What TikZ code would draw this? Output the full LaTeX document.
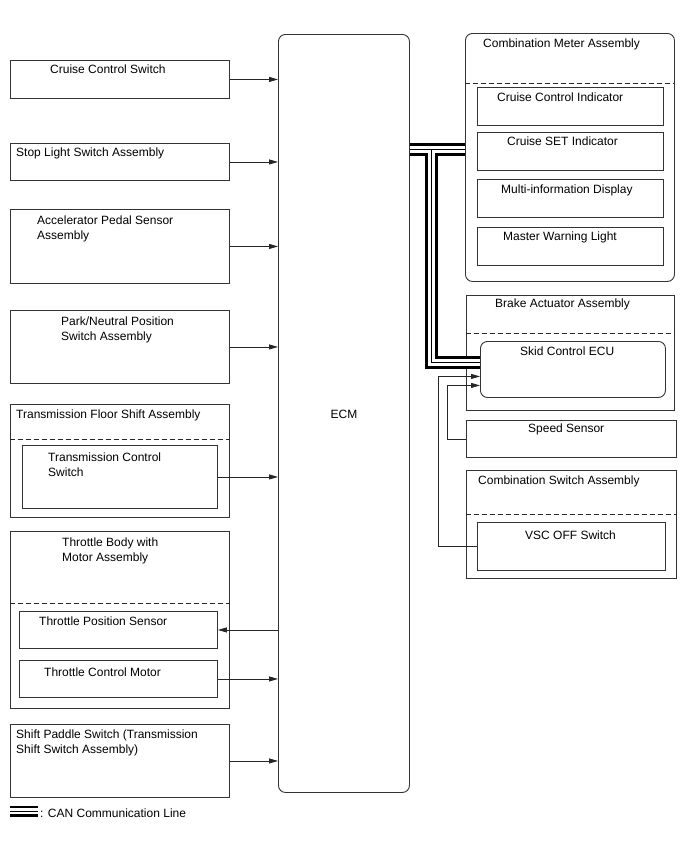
\documentclass[tikz,border=0pt]{standalone}
\usepackage{fontspec}
\setmainfont{Liberation Sans}
\usetikzlibrary{positioning,arrows.meta,calc}

\begin{document}
\begin{tikzpicture}[x=1pt,y=-1pt,
    compbox/.style={draw=black!80,line width=0.9pt,anchor=north west,inner sep=0pt},
    ecubox/.style={compbox,rounded corners=7pt},
    lbl/.style={anchor=north west,inner sep=0pt,yshift=-1pt,align=left,font=\fontsize{12}{14.5}\selectfont},
    arrow/.style={-{Triangle[length=9pt,width=5pt]},line width=0.8pt,black!85},
    divider/.style={draw=black!85,line width=0.8pt,dash pattern=on 5pt off 3pt},
]
\fill[white] (0,0) rectangle (688,852);
\useasboundingbox (0,0) rectangle (688,852);

% left column: inputs / outputs of the ECM
\node[compbox,minimum width=219pt,minimum height=38pt]  (ccsw)   at (10,60)  {};
\node[compbox,minimum width=219pt,minimum height=37pt]  (stop)   at (10,143) {};
\node[compbox,minimum width=219pt,minimum height=74pt]  (accel)  at (10,209) {};
\node[compbox,minimum width=219pt,minimum height=73pt]  (pnp)    at (10,310) {};
\node[compbox,minimum width=219pt,minimum height=113pt] (tfs)    at (10,404) {};
\node[compbox,minimum width=195pt,minimum height=63pt]  (tcsw)   at (22,445) {};
\node[compbox,minimum width=219pt,minimum height=177pt] (tbody)  at (10,531) {};
\node[compbox,minimum width=198pt,minimum height=37pt]  (tps)    at (19,611) {};
\node[compbox,minimum width=198pt,minimum height=37pt]  (tcm)    at (19,660) {};
\node[compbox,minimum width=219pt,minimum height=73pt]  (paddle) at (10,724) {};
\draw[divider] (tfs.west |- 0,439) -- (tfs.east |- 0,439);
\draw[divider] (tbody.west |- 0,603) -- (tbody.east |- 0,603);

\node[lbl] (ccswT)   at (50,64)  {Cruise Control Switch};
\node[lbl] (stopT)   at (16,147) {Stop Light Switch Assembly};
\node[lbl] (accelT)  at (37,215) {Accelerator Pedal Sensor\\Assembly};
\node[lbl] (pnpT)    at (61,316) {Park/Neutral Position\\Switch Assembly};
\node[lbl] (tfsT)    at (16,409) {Transmission Floor Shift Assembly};
\node[lbl] (tcswT)   at (48,452) {Transmission Control\\Switch};
\node[lbl] (tbodyT)  at (62,537) {Throttle Body with\\Motor Assembly};
\node[lbl] (tpsT)    at (39,616) {Throttle Position Sensor};
\node[lbl] (tcmT)    at (44,667) {Throttle Control Motor};
\node[lbl] (paddleT) at (16,729) {Shift Paddle Switch (Transmission\\Shift Switch Assembly)};

% ECM
\node[ecubox,minimum width=131pt,minimum height=758pt] (ecm) at (278,34) {};
\node[lbl,anchor=center] (ecmT) at (ecm.center) {ECM};

% right column
\node[ecubox,minimum width=209pt,minimum height=248pt] (meter) at (465,33) {};
\draw[divider] (meter.west |- 0,83) -- (meter.east |- 0,83);
\node[compbox,minimum width=186pt,minimum height=38pt] (cci)  at (477,87)  {};
\node[compbox,minimum width=186pt,minimum height=38pt] (cset) at (477,132) {};
\node[compbox,minimum width=186pt,minimum height=38pt] (mid)  at (477,179) {};
\node[compbox,minimum width=186pt,minimum height=38pt] (mwl)  at (477,227) {};
\node[compbox,minimum width=208pt,minimum height=115pt] (brake) at (466,295) {};
\draw[divider] (brake.west |- 0,333) -- (brake.east |- 0,333);
\node[ecubox,minimum width=185pt,minimum height=56pt] (skid) at (480,341) {};
\node[compbox,minimum width=210pt,minimum height=37pt] (speed) at (466,420) {};
\node[compbox,minimum width=210pt,minimum height=108pt] (cswa) at (466,470) {};
\draw[divider] (cswa.west |- 0,514) -- (cswa.east |- 0,514);
\node[compbox,minimum width=188pt,minimum height=48pt] (vsc) at (477,522) {};

\node[lbl] (meterT) at (483,38)  {Combination Meter Assembly};
\node[lbl] (cciT)   at (497,92)  {Cruise Control Indicator};
\node[lbl] (csetT)  at (507,136) {Cruise SET Indicator};
\node[lbl] (midT)   at (501,184) {Multi-information Display};
\node[lbl] (mwlT)   at (503,231) {Master Warning Light};
\node[lbl] (brakeT) at (495,298) {Brake Actuator Assembly};
\node[lbl] (skidT)  at (520,346) {Skid Control ECU};
\node[lbl] (speedT) at (528,423) {Speed Sensor};
\node[lbl] (cswaT)  at (478,475) {Combination Switch Assembly};
\node[lbl] (vscT)   at (525,530) {VSC OFF Switch};

% signal lines
\foreach \src in {ccsw,stop,accel,pnp,tcsw,tcm,paddle}
  \draw[arrow] (\src.east) -- (\src.east -| ecm.west);
\draw[arrow] (tps.east -| ecm.west) -- (tps.east);
\draw[arrow] (speed.west) -- ++(-19,0) |- ([yshift=-16pt]skid.west);
\draw[arrow] (vsc.west) -- ++(-39,0) |- ([yshift=-7pt]skid.west);

% CAN bus: black, white, then thin black on top
\coordinate (canT) at (431,149);
\foreach \w/\c in {13pt/black,7pt/white,0.9pt/black}
  \draw[line width=\w,\c] (ecm.east |- canT) -- (meter.west |- canT)
    (canT) |- ([yshift=7pt]skid.west);

% legend
\coordinate (legA) at (10,811);
\coordinate (legB) at (38,811);
\foreach \w/\c in {11pt/black,6pt/white,0.8pt/black}
  \draw[line width=\w,\c] (legA) -- (legB);
\node[lbl,anchor=west] (legT) at (40,812) {: CAN Communication Line};
\end{tikzpicture}
\end{document}
